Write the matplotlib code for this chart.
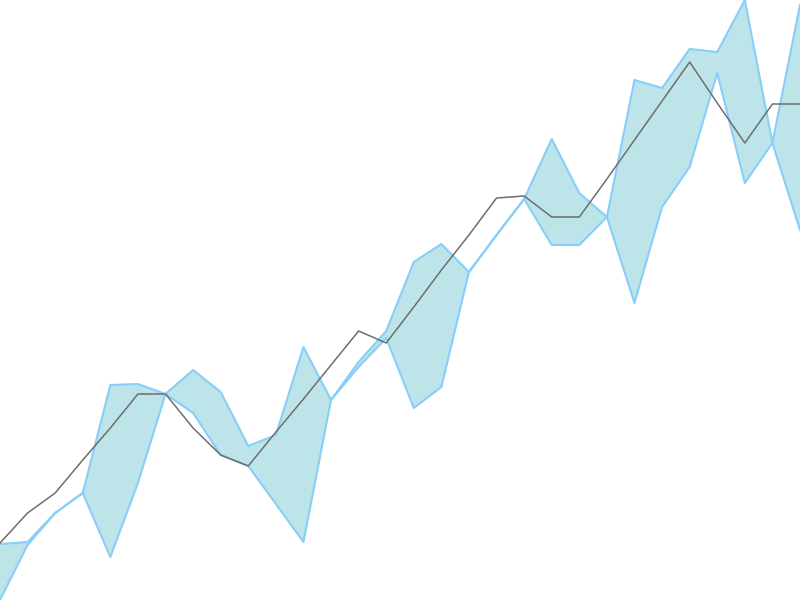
import numpy as np
import matplotlib

matplotlib.use("Agg")

import matplotlib.pyplot as plt

# Values (30 evenly spaced samples).
x = np.arange(30)
mean_line = [5.7, 8.7, 10.7, 14.0, 17.2, 20.6, 20.6, 17.2, 14.5, 13.4,
             16.8, 20.1, 23.5, 26.9, 25.7, 29.3, 33.0, 36.5, 40.2, 40.4,
             38.3, 38.3, 42.1, 46.0, 49.9, 53.8, 49.7, 45.7, 49.6, 49.6]
band_a = [5.6, 5.8, 8.7, 10.7, 21.5, 21.6, 20.6, 23.0, 20.8, 15.4,
          16.5, 25.3, 20.0, 23.8, 26.9, 33.8, 35.6, 32.8, 36.5, 40.1,
          46.1, 40.7, 38.3, 52.0, 51.2, 55.1, 54.8, 60.0, 45.7, 59.5]
band_b = [0.0, 5.5, 8.7, 10.7, 4.3, 11.7, 20.6, 18.7, 14.5, 13.4,
          9.6, 5.8, 20.0, 23.3, 26.2, 19.2, 21.3, 32.8, 36.5, 40.1,
          35.5, 35.5, 38.3, 29.7, 39.3, 43.3, 52.7, 41.7, 45.7, 37.0]

FILL = "#bde4e9"
EDGE = "#87cefa"

fig = plt.figure(figsize=(8, 6), dpi=100)
ax = fig.add_axes([0, 0, 1, 1])

ax.fill_between(x, band_a, band_b, color=FILL, lw=0)
ax.plot(x, band_a, color=EDGE, lw=1.5)
ax.plot(x, band_b, color=EDGE, lw=1.5)
ax.plot(x, mean_line, color="#6e6e6e", lw=1.1)

ax.set_xlim(0, 29)
ax.set_ylim(0, 60)
ax.axis("off")

fig.savefig("out.png", dpi=100, facecolor="white")
